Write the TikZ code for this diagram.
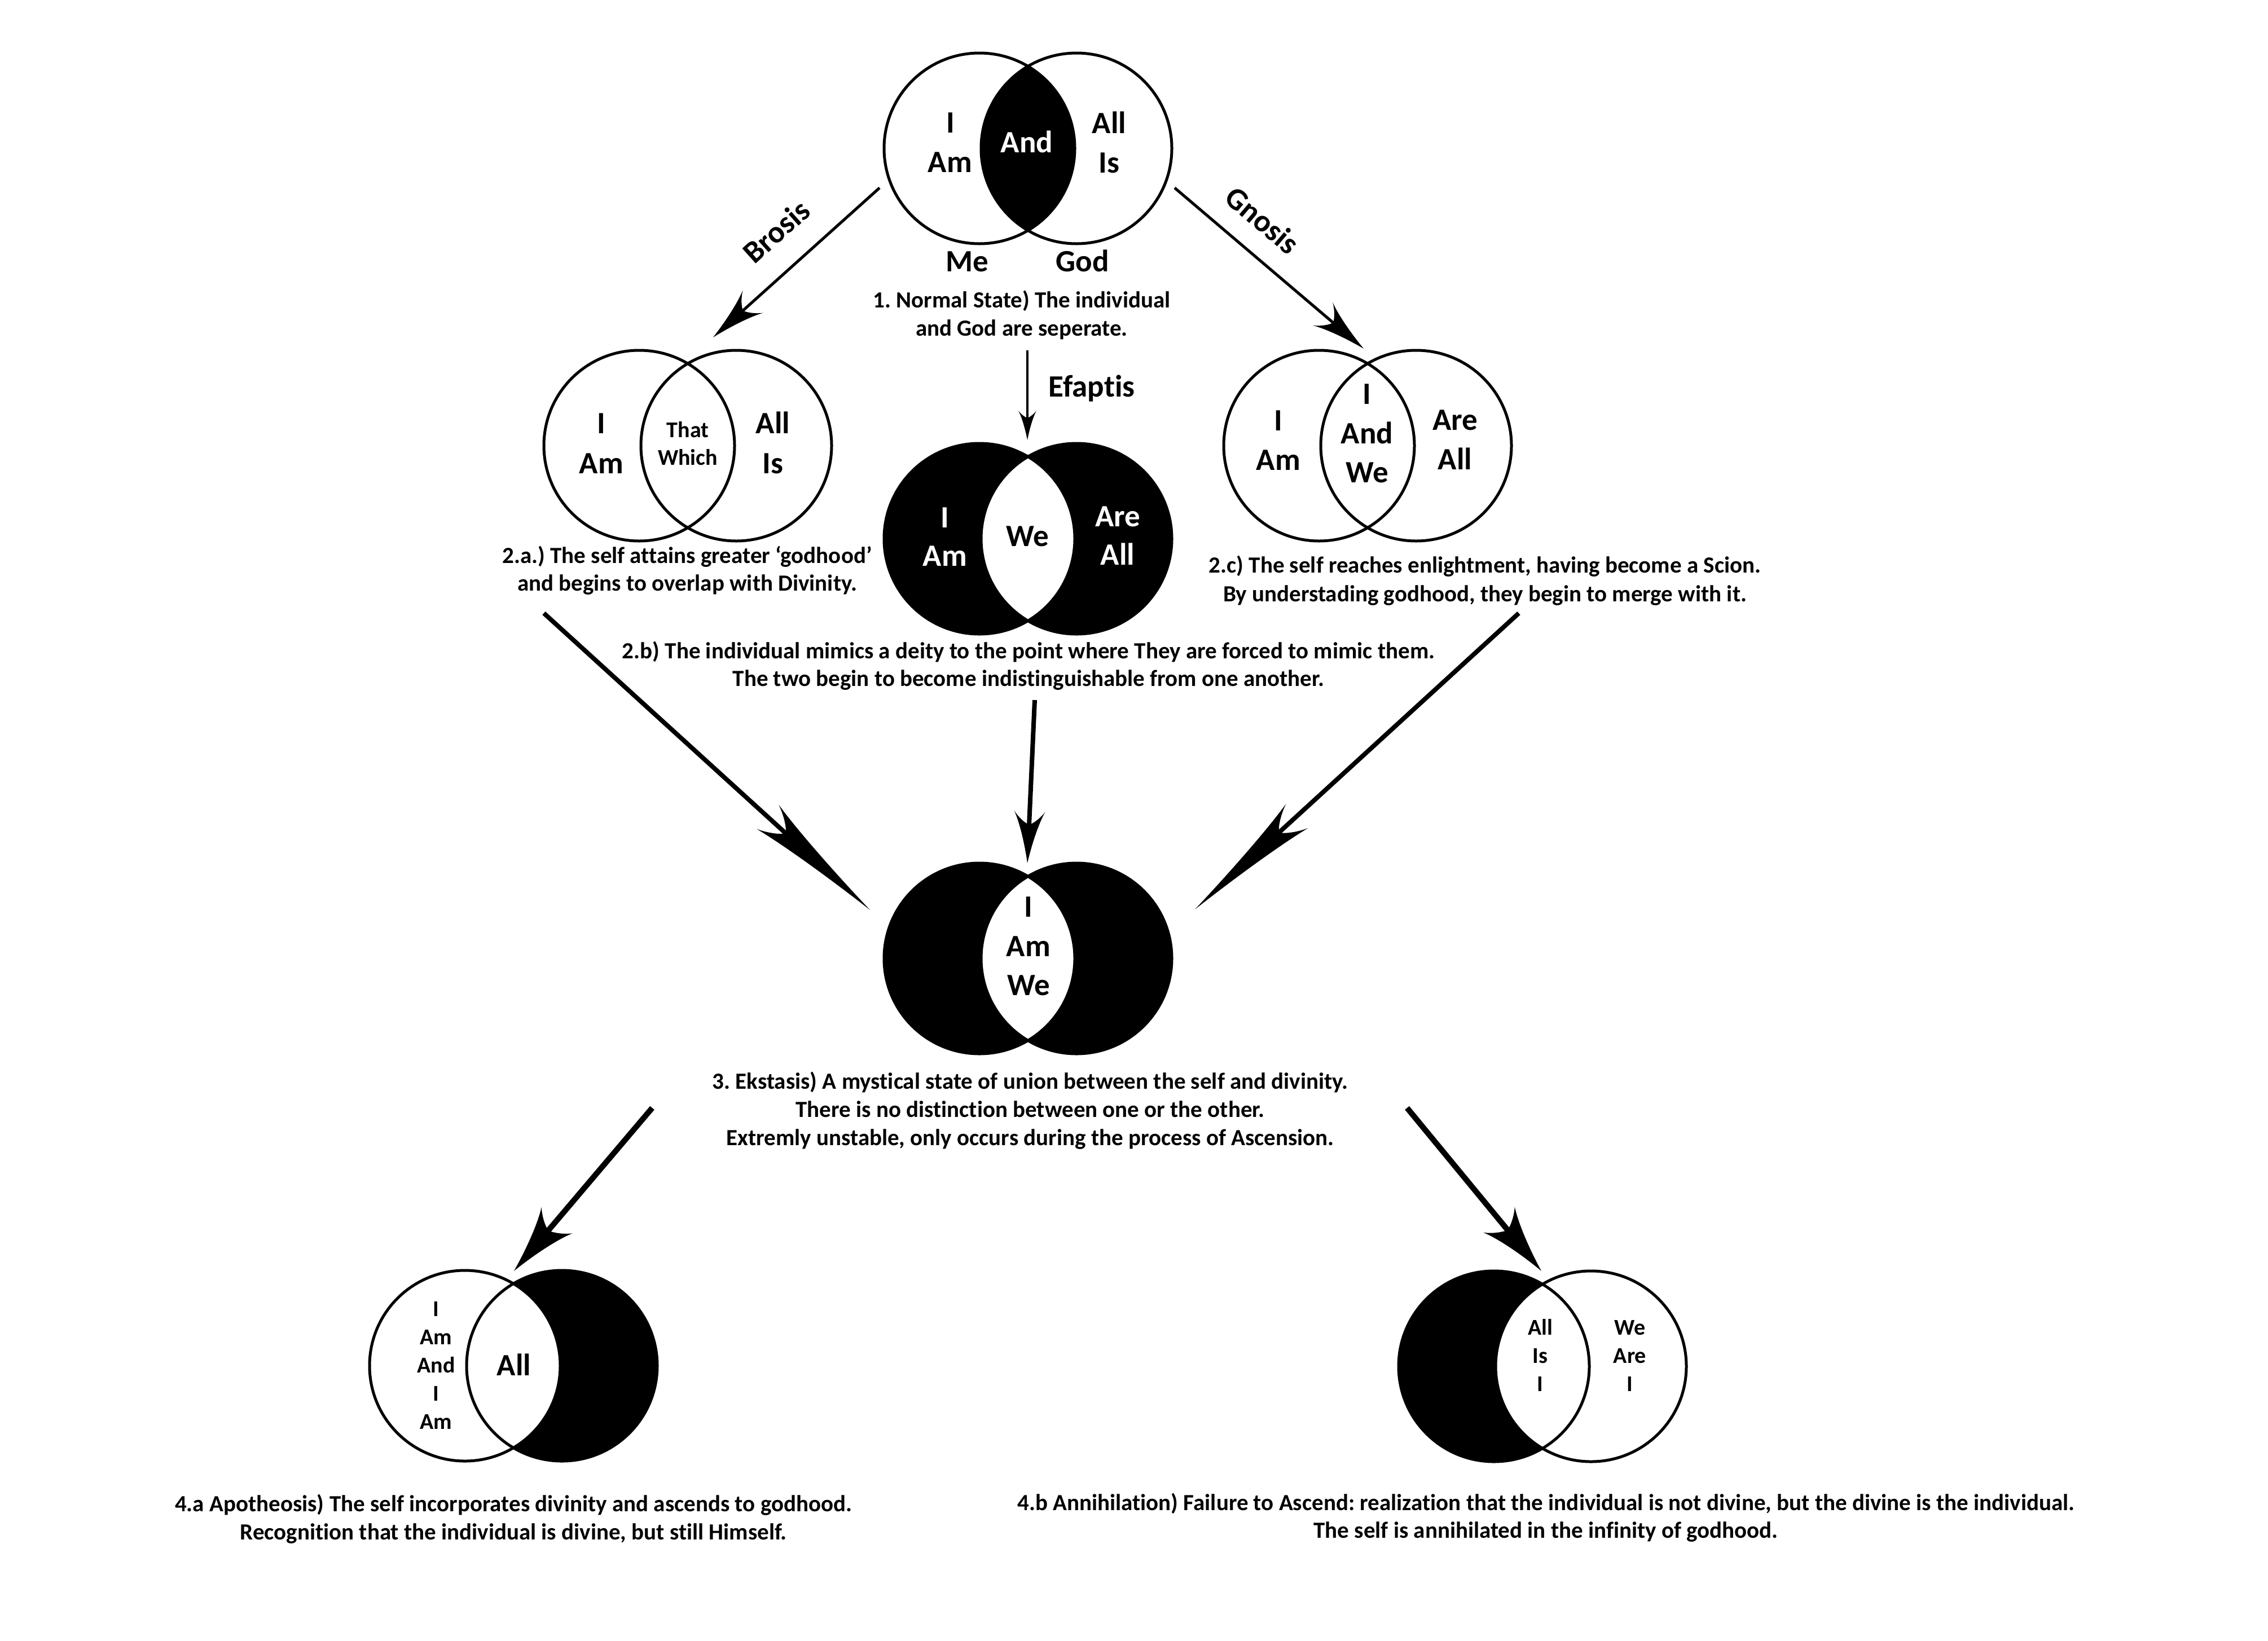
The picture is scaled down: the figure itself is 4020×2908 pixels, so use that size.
\documentclass[tikz,border=0pt]{standalone}
\usepackage{fontspec}
\setmainfont{Carlito}[Ligatures=NoCommon]
\usetikzlibrary{arrows.meta}
\frenchspacing
\newdimen\barbA \newdimen\barbB \newdimen\barbC \newdimen\barbD \newdimen\barbE
\pgfdeclarearrow{
  name = CBarb,
  parameters = {\the\pgfarrowlength,\the\pgfarrowwidth,\the\pgfarrowinset},
  setup code = {
    \pgfarrowssettipend{0pt}
    \barbA=-\pgfarrowlength
    \pgfarrowssetbackend{\barbA}
    \barbB=\pgfarrowinset \advance\barbB by \barbA \advance\barbB by 1pt
    \pgfarrowssetlineend{\barbB}
    \pgfarrowshullpoint{0pt}{0pt}
    \pgfarrowshullpoint{\barbA}{.5\pgfarrowwidth}
    \pgfarrowshullpoint{\barbA}{-.5\pgfarrowwidth}
    \pgfarrowssavethe\pgfarrowlength
    \pgfarrowssavethe\pgfarrowwidth
    \pgfarrowssavethe\pgfarrowinset
  },
  drawing code = {
    \barbA=-\pgfarrowlength
    \barbB=\pgfarrowinset \advance\barbB by \barbA
    \barbC=.5\pgfarrowwidth
    \barbD=.5\pgfarrowinset \advance\barbD by \barbA
    \barbE=.9\pgfarrowinset \advance\barbE by \barbA
    \pgfpathmoveto{\pgfqpoint{0pt}{0pt}}
    \pgfpathcurveto{\pgfqpoint{-.4\pgfarrowlength}{.25\barbC}}{\pgfqpoint{-.8\pgfarrowlength}{.65\barbC}}{\pgfqpoint{\barbA}{\barbC}}
    \pgfpathcurveto{\pgfqpoint{\barbD}{.7\barbC}}{\pgfqpoint{\barbE}{.25\barbC}}{\pgfqpoint{\barbB}{0pt}}
    \pgfpathcurveto{\pgfqpoint{\barbE}{-.25\barbC}}{\pgfqpoint{\barbD}{-.7\barbC}}{\pgfqpoint{\barbA}{-\barbC}}
    \pgfpathcurveto{\pgfqpoint{-.8\pgfarrowlength}{-.65\barbC}}{\pgfqpoint{-.4\pgfarrowlength}{-.25\barbC}}{\pgfqpoint{0pt}{0pt}}
    \pgfpathclose
    \pgfusepathqfill
  },
  defaults = {length=20pt, width=10pt, inset=5pt}
}
\begin{document}
\begin{tikzpicture}[x=1pt,y=-1pt,
  lab/.style={font=\fontsize{55}{66}\selectfont\bfseries, anchor=base, inner sep=0pt},
  wlab/.style={lab, text=white},
  sml/.style={font=\fontsize{40}{48}\selectfont\bfseries, anchor=base, inner sep=0pt},
  captxt/.style={font=\fontsize{41}{50}\selectfont\bfseries, anchor=base, inner sep=0pt},
  ring/.style={line width=5pt},
  arrtop/.style={line width=5pt, -{CBarb[length=95pt,width=54pt,inset=24pt]}},
  arref/.style={line width=4pt, -{CBarb[length=52pt,width=32pt,inset=13pt]}},
  arrdiag/.style={line width=8pt, -{CBarb[length=245pt,width=58pt,inset=43pt]}},
  arrvert/.style={line width=8pt, -{CBarb[length=92pt,width=55pt,inset=24pt]}},
  arrbot/.style={line width=10pt, -{CBarb[length=118pt,width=72pt,inset=24pt]}}
]
\useasboundingbox (0,0) rectangle (4020,2908);
\def\R{169pt}
% ---------- centres ----------
\coordinate (t1) at (1736,263);  \coordinate (t2) at (1908,263);
\coordinate (a1) at (1133,790);  \coordinate (a2) at (1305,790);
\coordinate (b1) at (1736,955);  \coordinate (b2) at (1908,955);
\coordinate (c1) at (2338,790);  \coordinate (c2) at (2510,790);
\coordinate (e1) at (1736,1699); \coordinate (e2) at (1908,1699);
\coordinate (p1) at (824,2421);  \coordinate (p2) at (996,2421);
\coordinate (n1) at (2648,2422); \coordinate (n2) at (2820,2422);

% ---------- 1. top ----------
\begin{scope}\clip (t1) circle[radius=\R]; \fill (t2) circle[radius=\R];\end{scope}
\draw[ring] (t1) circle[radius=\R] (t2) circle[radius=\R];
% ---------- 2.a ----------
\draw[ring] (a1) circle[radius=\R] (a2) circle[radius=\R];
% ---------- 2.b ----------
\fill (b1) circle[radius=\R] (b2) circle[radius=\R];
\begin{scope}\clip (b1) circle[radius=\R]; \fill[white] (b2) circle[radius=\R];\end{scope}
\draw[ring] (b1) circle[radius=\R] (b2) circle[radius=\R];
% ---------- 2.c ----------
\draw[ring] (c1) circle[radius=\R] (c2) circle[radius=\R];
% ---------- 3 ----------
\fill (e1) circle[radius=\R] (e2) circle[radius=\R];
\begin{scope}\clip (e1) circle[radius=\R]; \fill[white] (e2) circle[radius=\R];\end{scope}
\draw[ring] (e1) circle[radius=\R] (e2) circle[radius=\R];
% ---------- 4.a ----------
\fill (p2) circle[radius=\R];
\begin{scope}\clip (p2) circle[radius=\R]; \fill[white] (p1) circle[radius=\R];\end{scope}
\draw[ring] (p1) circle[radius=\R] (p2) circle[radius=\R];
% ---------- 4.b ----------
\fill (n1) circle[radius=\R];
\begin{scope}\clip (n1) circle[radius=\R]; \fill[white] (n2) circle[radius=\R];\end{scope}
\draw[ring] (n1) circle[radius=\R] (n2) circle[radius=\R];

% ---------- labels: top ----------
\node[lab] (tI) at (1685,235) {I};
\node[lab] (tAm) at (1684,305) {Am};
\node[wlab] (tAnd) at (1820,270) {And};
\node[lab] (tAll) at (1966,236) {All};
\node[lab] (tIs) at (1966,306) {Is};
\node[lab] (tMe) at (1714,481) {Me};
\node[lab] (tGod) at (1919,481) {God};
\node[captxt] (cap1a) at (1811,545) {1. Normal State) The individual};
\node[captxt] (cap1b) at (1811,595) {and God are seperate.};

% ---------- labels: 2.a ----------
\node[lab] (aI) at (1066,768) {I};
\node[lab] (aAm) at (1066,839) {Am};
\node[sml] (aThat) at (1219,775) {That};
\node[sml] (aWhich) at (1219,824) {Which};
\node[lab] (aAll) at (1370,768) {All};
\node[lab] (aIs) at (1370,839) {Is};
\node[captxt] (cap2aa) at (1218,998) {2.a.) The self attains greater ‘godhood’};
\node[captxt] (cap2ab) at (1218,1047) {and begins to overlap with Divinity.};

% ---------- labels: 2.b ----------
\node[wlab] (bI) at (1675,935) {I};
\node[wlab] (bAm) at (1675,1003) {Am};
\node[lab] (bWe) at (1821,968) {We};
\node[wlab] (bAre) at (1981,933) {Are};
\node[wlab] (bAll) at (1981,1001) {All};
\node[captxt] (cap2ba) at (1823,1167) {2.b) The individual mimics a deity to the point where They are forced to mimic them.};
\node[captxt] (cap2bb) at (1823,1216) {The two begin to become indistinguishable from one another.};

% ---------- labels: 2.c ----------
\node[lab] (cI) at (2266,763) {I};
\node[lab] (cAm) at (2266,833) {Am};
\node[lab] (cI2) at (2423,716) {I};
\node[lab] (cAnd) at (2423,786) {And};
\node[lab] (cWe) at (2423,855) {We};
\node[lab] (cAre) at (2579,762) {Are};
\node[lab] (cAll) at (2579,832) {All};
\node[captxt] (cap2ca) at (2632,1015) {2.c) The self reaches enlightment, having become a Scion.};
\node[captxt] (cap2cb) at (2632,1066) {By understading godhood, they begin to merge with it.};

% ---------- labels: 3 ----------
\node[lab] (eI) at (1823,1625) {I};
\node[lab] (eAm) at (1823,1695) {Am};
\node[lab] (eWe) at (1823,1764) {We};
\node[captxt] (cap3a) at (1826,1930) {3. Ekstasis) A mystical state of union between the self and divinity.};
\node[captxt] (cap3b) at (1826,1980) {There is no distinction between one or the other.};
\node[captxt] (cap3c) at (1826,2030) {Extremly unstable, only occurs during the process of Ascension.};

% ---------- labels: 4.a ----------
\node[sml] (pI) at (773,2333) {I};
\node[sml] (pAm) at (773,2383) {Am};
\node[sml] (pAnd) at (773,2433) {And};
\node[sml] (pI2) at (773,2483) {I};
\node[sml] (pAm2) at (773,2533) {Am};
\node[lab] (pAll) at (911,2438) {All};
\node[captxt] (cap4aa) at (910,2679) {4.a Apotheosis) The self incorporates divinity and ascends to godhood.};
\node[captxt] (cap4ab) at (910,2729) {Recognition that the individual is divine, but still Himself.};

% ---------- labels: 4.b ----------
\node[sml] (nAll) at (2730,2366) {All};
\node[sml] (nIs) at (2730,2416) {Is};
\node[sml] (nI) at (2730,2466) {I};
\node[sml] (nWe) at (2889,2366) {We};
\node[sml] (nAre) at (2889,2416) {Are};
\node[sml] (nI2) at (2889,2466) {I};
\node[captxt] (cap4ba) at (2740,2677) {4.b Annihilation) Failure to Ascend: realization that the individual is not divine, but the divine is the individual.};
\node[captxt] (cap4bb) at (2740,2726) {The self is annihilated in the infinity of godhood.};

% ---------- arrows ----------
\coordinate (brS) at (1559,333);  \coordinate (brT) at (1264,598);
\coordinate (gnS) at (2082,333);  \coordinate (gnT) at (2417,618);
\coordinate (efS) at (1821,621);  \coordinate (efT) at (1821,780);
\coordinate (mlS) at (964,1087);  \coordinate (mlT) at (1542,1613);
\coordinate (mmS) at (1834,1241); \coordinate (mmT) at (1821,1530);
\coordinate (mrS) at (2692,1087); \coordinate (mrT) at (2118,1612);
\coordinate (dlS) at (1156,1964); \coordinate (dlT) at (911,2253);
\coordinate (drS) at (2494,1964); \coordinate (drT) at (2732,2253);

\draw[arrtop] (brS) -- (brT);
\draw[arrtop] (gnS) -- (gnT);
\draw[arref] (efS) -- (efT);
\draw[arrdiag] (mlS) -- (mlT);
\draw[arrvert] (mmS) -- (mmT);
\draw[arrdiag] (mrS) -- (mrT);
\draw[arrbot] (dlS) -- (dlT);
\draw[arrbot] (drS) -- (drT);

\node[lab, anchor=center, rotate=41.9] (brosis) at (1376,410) {Brosis};
\node[lab, anchor=center, rotate=-40.4] (gnosis) at (2238,390) {Gnosis};
\node[lab] (efaptis) at (1935,703) {Efaptis};
\end{tikzpicture}
\end{document}
